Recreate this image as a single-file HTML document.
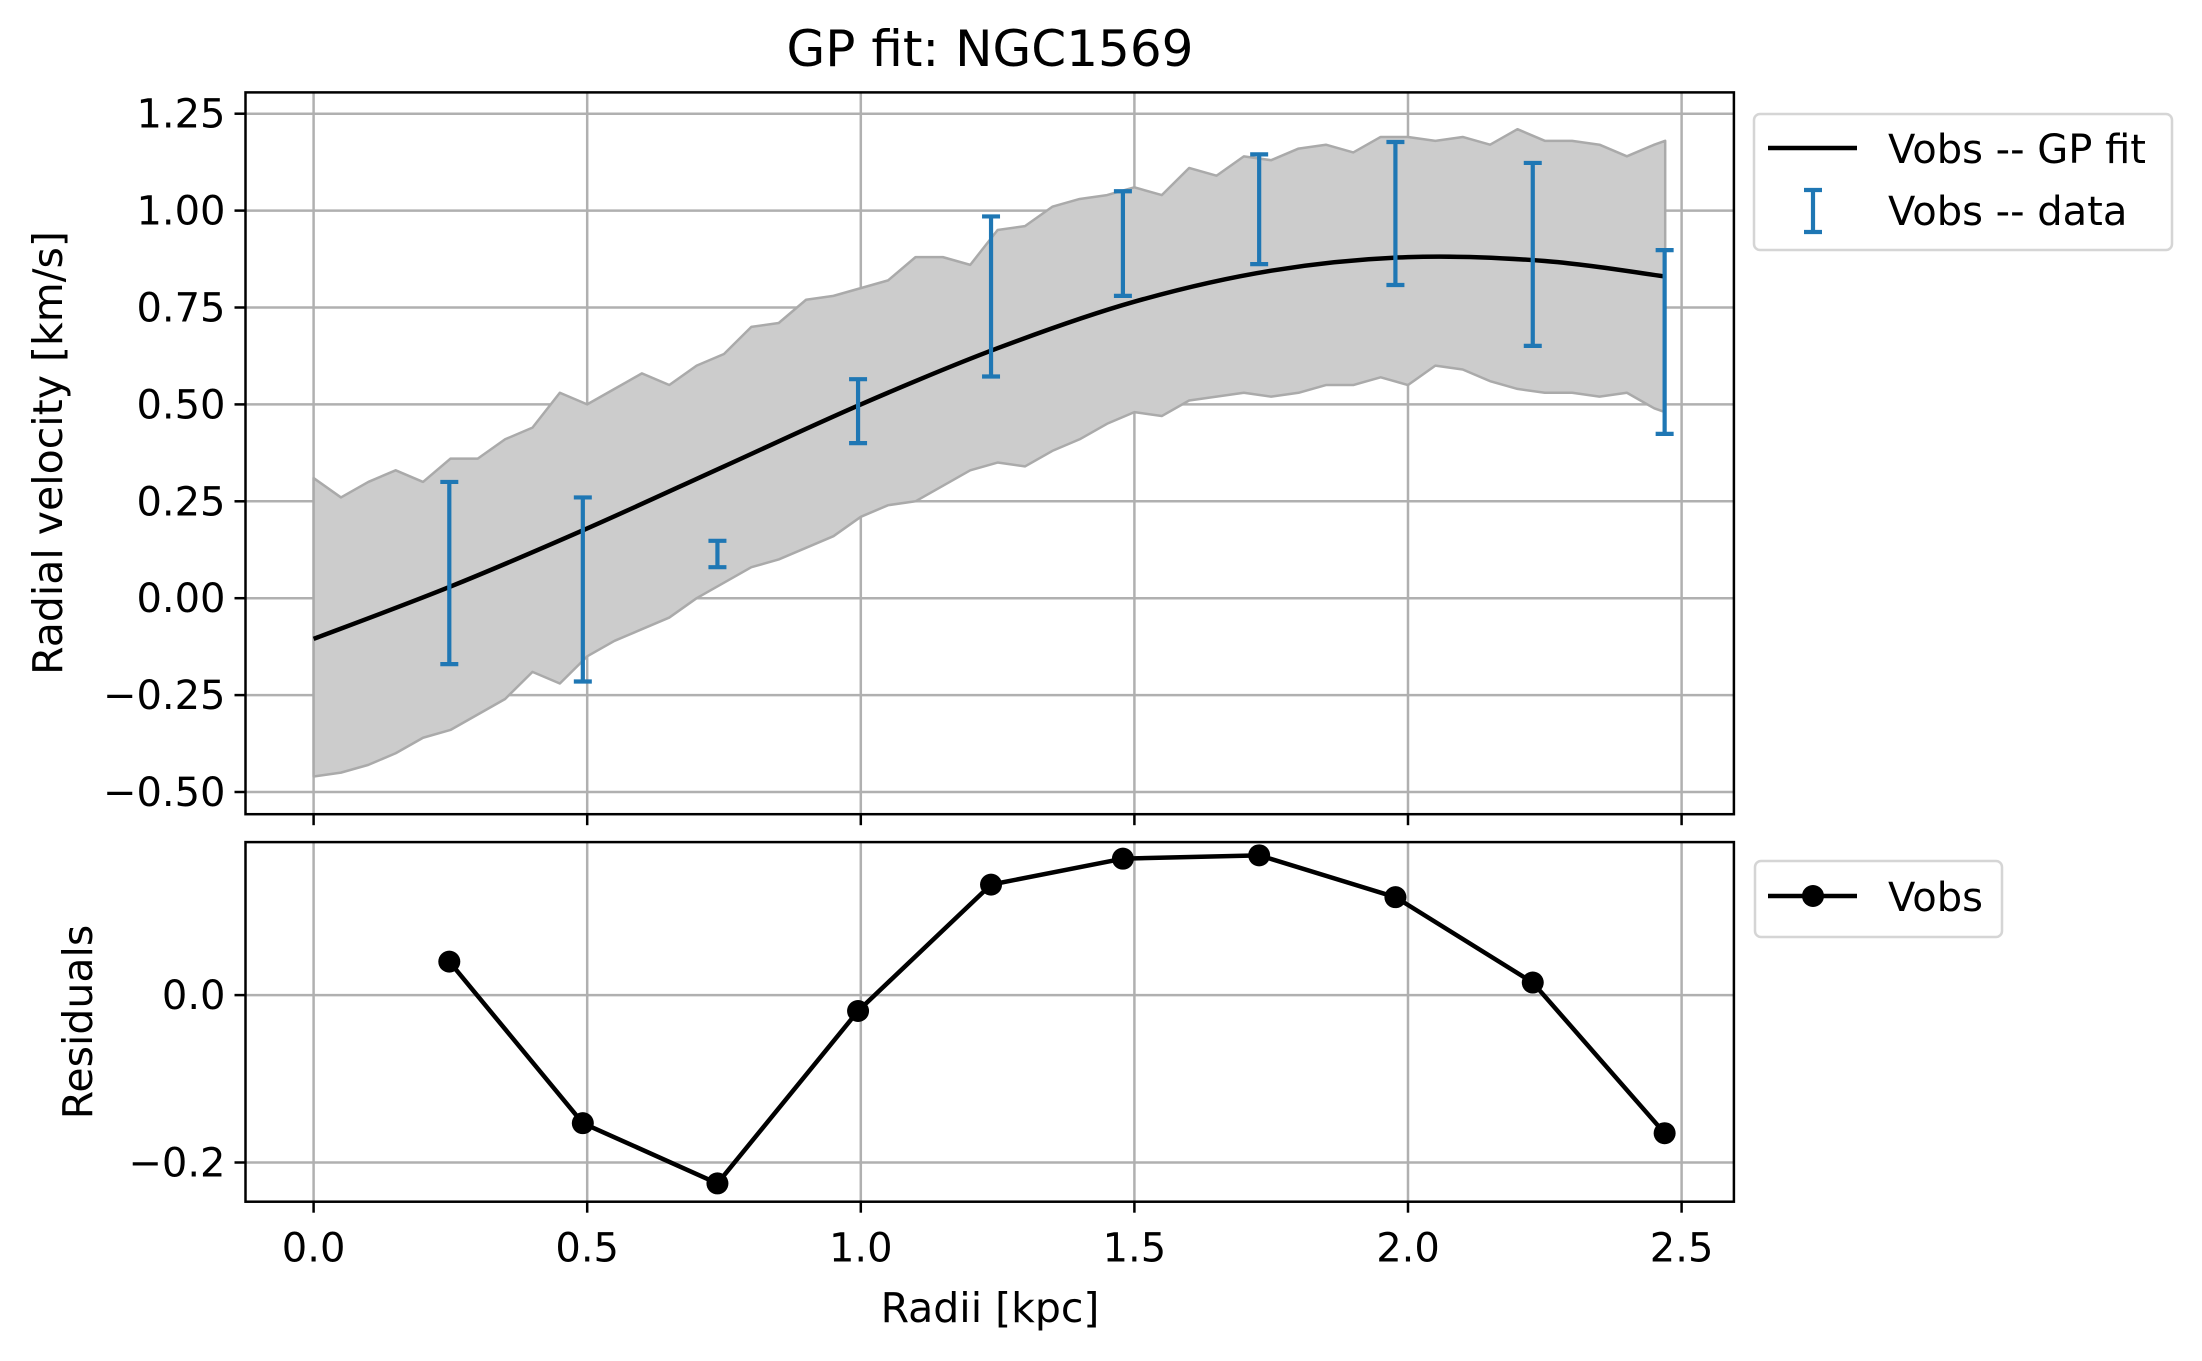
<!DOCTYPE html>
<html><head><meta charset="utf-8"><title>GP fit: NGC1569</title>
<style>html,body{margin:0;padding:0;background:#fff}svg{display:block}text{font-family:"DejaVu Sans","Liberation Sans",sans-serif;fill:#000}</style>
</head><body>
<svg id="fig" width="2202" height="1361" viewBox="0 0 2202 1361" xmlns="http://www.w3.org/2000/svg"></svg>
<script>
// ---- data ----
const radii = [0.248, 0.492, 0.738, 0.995, 1.238, 1.479, 1.728, 1.977, 2.228, 2.469];
const errLow = [-0.17, -0.215, 0.08, 0.40, 0.572, 0.78, 0.862, 0.808, 0.651, 0.424];
const errHigh = [0.30, 0.26, 0.148, 0.565, 0.985, 1.05, 1.145, 1.177, 1.123, 0.898];
const residuals = [0.04, -0.153, -0.225, -0.019, 0.132, 0.163, 0.167, 0.117, 0.015, -0.165];
const fitX = [0, 0.25, 0.5, 0.75, 1.0, 1.25, 1.5, 1.75, 2.0, 2.25, 2.47];
const fitY = [-0.105, 0.03, 0.18, 0.34, 0.50, 0.645, 0.765, 0.845, 0.88, 0.87, 0.83];
const bandX = [0,0.05,0.1,0.15,0.2,0.25,0.3,0.35,0.4,0.45,0.5,0.55,0.6,0.65,0.7,0.75,0.8,0.85,0.9,0.95,1.0,1.05,1.1,1.15,1.2,1.25,1.3,1.35,1.4,1.45,1.5,1.55,1.6,1.65,1.7,1.75,1.8,1.85,1.9,1.95,2.0,2.05,2.1,2.15,2.2,2.25,2.3,2.35,2.4,2.45,2.47];
const bandUpper = [0.31,0.26,0.30,0.33,0.30,0.36,0.36,0.41,0.44,0.53,0.50,0.54,0.58,0.55,0.60,0.63,0.70,0.71,0.77,0.78,0.80,0.82,0.88,0.88,0.86,0.95,0.96,1.01,1.03,1.04,1.06,1.04,1.11,1.09,1.14,1.13,1.16,1.17,1.15,1.19,1.19,1.18,1.19,1.17,1.21,1.18,1.18,1.17,1.14,1.17,1.18];
const bandLower = [-0.46,-0.45,-0.43,-0.40,-0.36,-0.34,-0.30,-0.26,-0.19,-0.22,-0.15,-0.11,-0.08,-0.05,0.00,0.04,0.08,0.10,0.13,0.16,0.21,0.24,0.25,0.29,0.33,0.35,0.34,0.38,0.41,0.45,0.48,0.47,0.51,0.52,0.53,0.52,0.53,0.55,0.55,0.57,0.55,0.60,0.59,0.56,0.54,0.53,0.53,0.52,0.53,0.49,0.48];
const xTicks = [0.0, 0.5, 1.0, 1.5, 2.0, 2.5];
const xTickLabels = ["0.0","0.5","1.0","1.5","2.0","2.5"];
const yTicksTop = [-0.5,-0.25,0,0.25,0.5,0.75,1.0,1.25];
const yTickLabelsTop = ["\u22120.50","\u22120.25","0.00","0.25","0.50","0.75","1.00","1.25"];
const yTicksRes = [-0.2, 0.0];
const yTickLabelsRes = ["\u22120.2","0.0"];

// ---- layout ----
const L=245.5, R=1733.9, T1=92.4, B1=814.2, T2=842.1, B2=1201.7;
const xs = v => 313.6 + v*547.2;
const ys1 = v => 598.2 - v*387.6;
const ys2 = v => 995.1 - v*837;
const svg = document.getElementById('fig');
const NS='http://www.w3.org/2000/svg';
function mk(tag, attrs, parent){const e=document.createElementNS(NS,tag);for(const k in attrs)e.setAttribute(k,attrs[k]);(parent||svg).appendChild(e);return e;}

const defs=mk('defs',{});
const c1=mk('clipPath',{id:'c1'},defs);mk('rect',{x:L,y:T1,width:R-L,height:B1-T1},c1);
const c2=mk('clipPath',{id:'c2'},defs);mk('rect',{x:L,y:T2,width:R-L,height:B2-T2},c2);

const title=mk('text',{x:990,y:66,'text-anchor':'middle','font-size':50});
title.textContent='GP fit: NGC1569';



function gridAndTicks(T,B,yTicks,yLabels,ysf,prefix,showXLabels){
  const g=mk('g',{});
  
  
  xTicks.forEach((v,i)=>{
    mk('line',{x1:xs(v),x2:xs(v),y1:T,y2:B,stroke:'#b0b0b0','stroke-width':2.5},g);
    const t=mk('line',{x1:xs(v),x2:xs(v),y1:B,y2:B+11,stroke:'#000','stroke-width':2.5});
    
    
    if(showXLabels){
      const tx=mk('text',{x:xs(v),y:B+60,'text-anchor':'middle','font-size':40});
      tx.textContent=xTickLabels[i];
      
      
    }
  });
  yTicks.forEach((v,i)=>{
    mk('line',{x1:L,x2:R,y1:ysf(v),y2:ysf(v),stroke:'#b0b0b0','stroke-width':2.5},g);
    const t=mk('line',{x1:L-11,x2:L,y1:ysf(v),y2:ysf(v),stroke:'#000','stroke-width':2.5});
    
    
    const tx=mk('text',{x:L-20,y:ysf(v)+14,'text-anchor':'end','font-size':40});
    tx.textContent=yLabels[i];
    
    
  });
}
gridAndTicks(T1,B1,yTicksTop,yTickLabelsTop,ys1,'top',false);
gridAndTicks(T2,B2,yTicksRes,yTickLabelsRes,ys2,'residual',true);

let d='M'+bandX.map((v,i)=>xs(v)+','+ys1(bandUpper[i])).join('L');
for(let i=bandX.length-1;i>=0;i--) d+='L'+xs(bandX[i])+','+ys1(bandLower[i]);
d+='Z';
const band=mk('path',{d:d,fill:'#cccccc',stroke:'#aaaaaa','stroke-width':2.5,'stroke-linejoin':'round','clip-path':'url(#c1)'});



const pts=fitX.map((v,i)=>[xs(v),ys1(fitY[i])]);
let cd='M'+pts[0][0]+','+pts[0][1];
for(let i=0;i<pts.length-1;i++){
  const p0=pts[Math.max(0,i-1)],p1=pts[i],p2=pts[i+1],p3=pts[Math.min(pts.length-1,i+2)];
  const c1x=p1[0]+(p2[0]-p0[0])/6,c1y=p1[1]+(p2[1]-p0[1])/6;
  const c2x=p2[0]-(p3[0]-p1[0])/6,c2y=p2[1]-(p3[1]-p1[1])/6;
  cd+='C'+c1x+','+c1y+' '+c2x+','+c2y+' '+p2[0]+','+p2[1];
}
const fit=mk('path',{d:cd,fill:'none',stroke:'#000','stroke-width':4.5,'clip-path':'url(#c1)'});



radii.forEach((v,i)=>{
  const g=mk('g',{stroke:'#1f77b4','stroke-width':4.2});
  
  
  const x=xs(v);
  mk('line',{x1:x,x2:x,y1:ys1(errLow[i]),y2:ys1(errHigh[i])},g);
  mk('line',{x1:x-9,x2:x+9,y1:ys1(errLow[i]),y2:ys1(errLow[i])},g);
  mk('line',{x1:x-9,x2:x+9,y1:ys1(errHigh[i]),y2:ys1(errHigh[i])},g);
});

const rl=mk('polyline',{points:radii.map((v,i)=>xs(v)+','+ys2(residuals[i])).join(' '),fill:'none',stroke:'#000','stroke-width':4.5,'stroke-linejoin':'round'});


radii.forEach((v,i)=>{
  const c=mk('circle',{cx:xs(v),cy:ys2(residuals[i]),r:11,fill:'#000'});
  
  
});

const s1=mk('rect',{x:L,y:T1,width:R-L,height:B1-T1,fill:'none',stroke:'#000','stroke-width':2.5});


const s2=mk('rect',{x:L,y:T2,width:R-L,height:B2-T2,fill:'none',stroke:'#000','stroke-width':2.5});



const xl=mk('text',{x:990,y:1322,'text-anchor':'middle','font-size':41});
xl.textContent='Radii [kpc]';


const yl=mk('text',{x:0,y:0,'text-anchor':'middle','font-size':41,transform:'translate(62,453) rotate(-90)'});
yl.textContent='Radial velocity [km/s]';


const yl2=mk('text',{x:0,y:0,'text-anchor':'middle','font-size':41,transform:'translate(92,1022) rotate(-90)'});
yl2.textContent='Residuals';



const lg1=mk('g',{});


mk('rect',{x:1754,y:114,width:418,height:136,rx:6,fill:'#fff',stroke:'#d5d5d5','stroke-width':2.5},lg1);
mk('line',{x1:1768,x2:1857,y1:148,y2:148,stroke:'#000','stroke-width':4.5},lg1);
const lt1=mk('text',{x:1888,y:163,'font-size':40},lg1);lt1.textContent='Vobs -- GP fit';
const eb=mk('g',{stroke:'#1f77b4','stroke-width':4.2},lg1);
mk('line',{x1:1813,x2:1813,y1:190,y2:232},eb);
mk('line',{x1:1804,x2:1822,y1:190,y2:190},eb);
mk('line',{x1:1804,x2:1822,y1:232,y2:232},eb);
const lt2=mk('text',{x:1888,y:225,'font-size':40},lg1);lt2.textContent='Vobs -- data';

const lg2=mk('g',{});


mk('rect',{x:1755,y:861,width:247,height:76,rx:6,fill:'#fff',stroke:'#d5d5d5','stroke-width':2.5},lg2);
mk('line',{x1:1768,x2:1857,y1:896,y2:896,stroke:'#000','stroke-width':4.5},lg2);
mk('circle',{cx:1813,cy:896,r:11,fill:'#000'},lg2);
const lt3=mk('text',{x:1888,y:911,'font-size':40},lg2);lt3.textContent='Vobs';
</script>
</body></html>
